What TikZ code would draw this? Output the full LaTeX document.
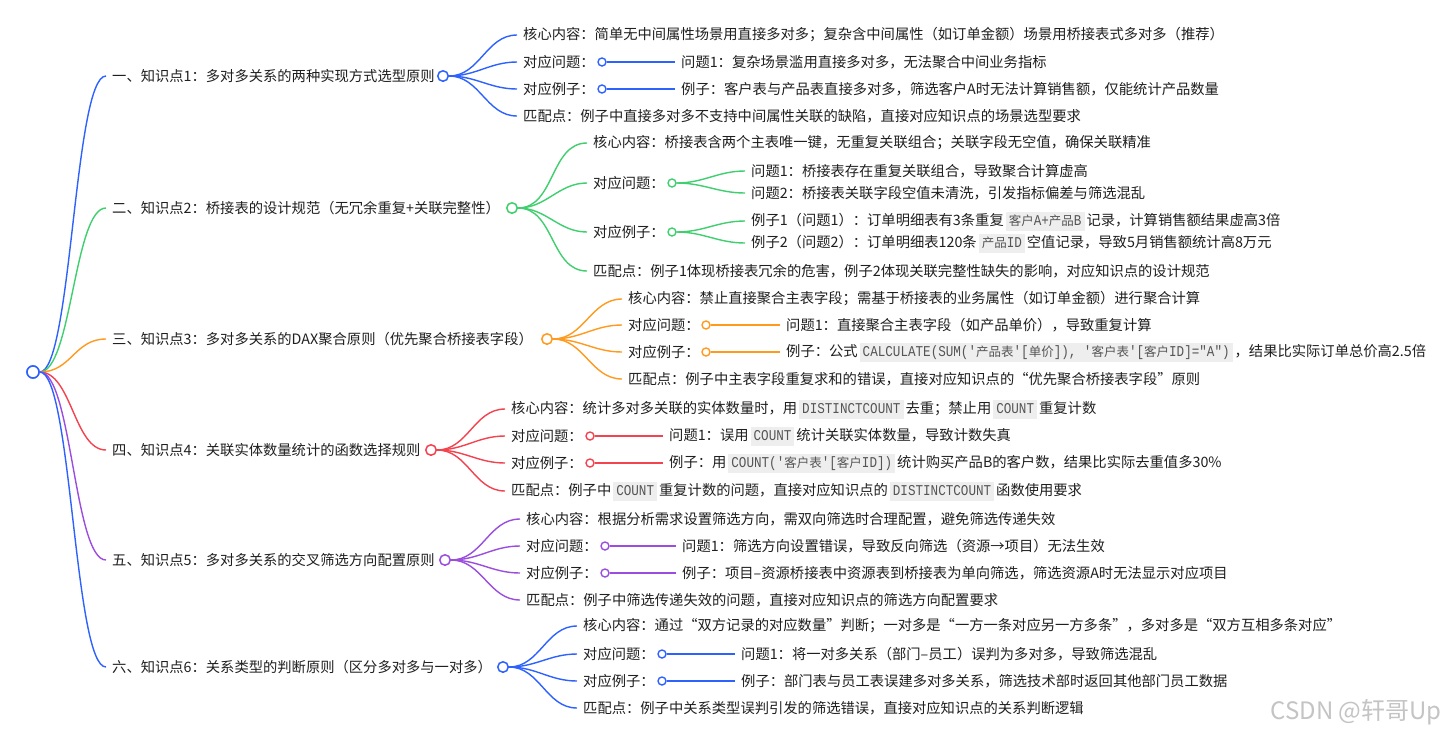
\documentclass[tikz,border=0pt]{standalone}
\usepackage{fontspec}
\setmainfont{Noto Sans CJK SC}
\newfontfamily\codefam[FakeStretch=0.84]{Liberation Mono}
\definecolor{cblue}{HTML}{2E62FF}
\definecolor{cgreen}{HTML}{3FCF6E}
\definecolor{corange}{HTML}{FF9A1E}
\definecolor{cred}{HTML}{F2434F}
\definecolor{cpurple}{HTML}{9B4DE0}
\definecolor{textc}{HTML}{1F1F1F}
\definecolor{codebg}{HTML}{EEEEEE}
\definecolor{codefg}{HTML}{555555}
\definecolor{wmc}{HTML}{C4C4C4}
\newcommand{\zh}[1]{{\normalfont\fontsize{12.5}{14}\selectfont #1}}
\newcommand{\cd}[1]{\hspace{2pt}{\setlength{\fboxsep}{0pt}\colorbox{codebg}{\hspace{3pt}\rule[-5pt]{0pt}{19pt}{\codefam\fontsize{15}{17}\selectfont\color{codefg}#1}\hspace{3pt}}}\hspace{2pt}}
\tikzset{
  lbl/.style={anchor=west, inner xsep=6pt, inner ysep=1pt, text=textc, font=\fontsize{14.3}{17}\selectfont},
  rootdot/.style={circle, draw=#1, fill=white, line width=1.5pt, minimum size=12pt, inner sep=0pt},
  bdot/.style={circle, draw=#1, fill=white, line width=1.5pt, minimum size=10.5pt, inner sep=0pt},
  sdot/.style={circle, draw=#1, fill=white, line width=1.4pt, minimum size=8pt, inner sep=0pt},
  link/.style={draw=#1, line width=1.4pt},
}
\begin{document}
\begin{tikzpicture}[x=1pt,y=-1pt]
\useasboundingbox[fill=white] (0,0) rectangle (1448,737);

% root
\node[rootdot=cblue] (root) at (33,372) {};

% ---------- branch 1 ----------
\node[lbl] (m1) at (106,76) {一、知识点1：多对多关系的两种实现方式选型原则};
\node[bdot=cblue] (c1) at (443,76) {};
\node[lbl] (k1a) at (517,35) {核心内容：简单无中间属性场景用直接多对多；复杂含中间属性（如订单金额）场景用桥接表式多对多（推荐）};
\node[lbl] (k1b) at (517,62) {对应问题：};
\node[sdot=cblue] (d1b) at (602,62) {};
\node[lbl] (g1b) at (675,62) {问题1：复杂场景滥用直接多对多，无法聚合中间业务指标};
\node[lbl] (k1c) at (517,89) {对应例子：};
\node[sdot=cblue] (d1c) at (602,89) {};
\node[lbl] (g1c) at (675,89) {例子：客户表与产品表直接多对多，筛选客户A时无法计算销售额，仅能统计产品数量};
\node[lbl] (k1d) at (517,116) {匹配点：例子中直接多对多不支持中间属性关联的缺陷，直接对应知识点的场景选型要求};

% ---------- branch 2 ----------
\node[lbl] (m2) at (106,208) {二、知识点2：桥接表的设计规范（无冗余重复+关联完整性）};
\node[bdot=cgreen] (c2) at (512,208) {};
\node[lbl] (k2a) at (587,143) {核心内容：桥接表含两个主表唯一键，无重复关联组合；关联字段无空值，确保关联精准};
\node[lbl] (k2b) at (587,183) {对应问题：};
\node[sdot=cgreen] (d2b) at (672,183) {};
\node[lbl] (g2b1) at (745,171) {问题1：桥接表存在重复关联组合，导致聚合计算虚高};
\node[lbl] (g2b2) at (745,193) {问题2：桥接表关联字段空值未清洗，引发指标偏差与筛选混乱};
\node[lbl] (k2c) at (587,232) {对应例子：};
\node[sdot=cgreen] (d2c) at (672,232) {};
\node[lbl] (g2c1) at (745,221) {例子1（问题1）：订单明细表有3条重复\cd{\zh{客户}A+\zh{产品}B}记录，计算销售额结果虚高3倍};
\node[lbl] (g2c2) at (745,243) {例子2（问题2）：订单明细表120条\cd{\zh{产品}ID}空值记录，导致5月销售额统计高8万元};
\node[lbl] (k2d) at (587,271) {匹配点：例子1体现桥接表冗余的危害，例子2体现关联完整性缺失的影响，对应知识点的设计规范};

% ---------- branch 3 ----------
\node[lbl] (m3) at (106,339) {三、知识点3：多对多关系的DAX聚合原则（优先聚合桥接表字段）};
\node[bdot=corange] (c3) at (547,339) {};
\node[lbl] (k3a) at (622,299) {核心内容：禁止直接聚合主表字段；需基于桥接表的业务属性（如订单金额）进行聚合计算};
\node[lbl] (k3b) at (622,325) {对应问题：};
\node[sdot=corange] (d3b) at (706,325) {};
\node[lbl] (g3b) at (780,325) {问题1：直接聚合主表字段（如产品单价），导致重复计算};
\node[lbl] (k3c) at (622,352) {对应例子：};
\node[sdot=corange] (d3c) at (706,352) {};
\node[lbl] (g3c) at (780,352) {例子：公式\cd{CALCULATE(SUM('\zh{产品表}'[\zh{单价}]), '\zh{客户表}'[\zh{客户}ID]="A")}，结果比实际订单总价高2.5倍};
\node[lbl] (k3d) at (622,379) {匹配点：例子中主表字段重复求和的错误，直接对应知识点的“优先聚合桥接表字段”原则};

% ---------- branch 4 ----------
\node[lbl] (m4) at (106,450) {四、知识点4：关联实体数量统计的函数选择规则};
\node[bdot=cred] (c4) at (431,450) {};
\node[lbl] (k4a) at (505,409) {核心内容：统计多对多关联的实体数量时，用\cd{DISTINCTCOUNT}去重；禁止用\cd{COUNT}重复计数};
\node[lbl] (k4b) at (505,436) {对应问题：};
\node[sdot=cred] (d4b) at (590,436) {};
\node[lbl] (g4b) at (663,436) {问题1：误用\cd{COUNT}统计关联实体数量，导致计数失真};
\node[lbl] (k4c) at (505,463) {对应例子：};
\node[sdot=cred] (d4c) at (590,463) {};
\node[lbl] (g4c) at (663,463) {例子：用\cd{COUNT('\zh{客户表}'[\zh{客户}ID])}统计购买产品B的客户数，结果比实际去重值多30\%};
\node[lbl] (k4d) at (505,491) {匹配点：例子中\cd{COUNT}重复计数的问题，直接对应知识点的\cd{DISTINCTCOUNT}函数使用要求};

% ---------- branch 5 ----------
\node[lbl] (m5) at (106,560) {五、知识点5：多对多关系的交叉筛选方向配置原则};
\node[bdot=cpurple] (c5) at (445,560) {};
\node[lbl] (k5a) at (520,519) {核心内容：根据分析需求设置筛选方向，需双向筛选时合理配置，避免筛选传递失效};
\node[lbl] (k5b) at (520,546) {对应问题：};
\node[sdot=cpurple] (d5b) at (605,546) {};
\node[lbl] (g5b) at (676,546) {问题1：筛选方向设置错误，导致反向筛选（资源→项目）无法生效};
\node[lbl] (k5c) at (520,573) {对应例子：};
\node[sdot=cpurple] (d5c) at (605,573) {};
\node[lbl] (g5c) at (676,573) {例子：项目–资源桥接表中资源表到桥接表为单向筛选，筛选资源A时无法显示对应项目};
\node[lbl] (k5d) at (520,600) {匹配点：例子中筛选传递失效的问题，直接对应知识点的筛选方向配置要求};

% ---------- branch 6 ----------
\node[lbl] (m6) at (106,667) {六、知识点6：关系类型的判断原则（区分多对多与一对多）};
\node[bdot=cblue] (c6) at (503,667) {};
\node[lbl] (k6a) at (577,626) {核心内容：通过“双方记录的对应数量”判断；一对多是“一方一条对应另一方多条”，多对多是“双方互相多条对应”};
\node[lbl] (k6b) at (577,654) {对应问题：};
\node[sdot=cblue] (d6b) at (662,654) {};
\node[lbl] (g6b) at (735,654) {问题1：将一对多关系（部门–员工）误判为多对多，导致筛选混乱};
\node[lbl] (k6c) at (577,681) {对应例子：};
\node[sdot=cblue] (d6c) at (662,681) {};
\node[lbl] (g6c) at (735,681) {例子：部门表与员工表误建多对多关系，筛选技术部时返回其他部门员工数据};
\node[lbl] (k6d) at (577,708) {匹配点：例子中关系类型误判引发的筛选错误，直接对应知识点的关系判断逻辑};

% watermark
\node[anchor=east, inner sep=0pt, text=wmc, font=\fontsize{24}{28}\selectfont] (wm) at (1442,712) {CSDN @轩哥Up};

% ---------- connectors ----------
\draw[link=cblue]   (root.east) .. controls +(32,0) and +(-32,0) .. (m1.west);
\draw[link=cgreen]  (root.east) .. controls +(32,0) and +(-32,0) .. (m2.west);
\draw[link=corange] (root.east) .. controls +(32,0) and +(-32,0) .. (m3.west);
\draw[link=cred]    (root.east) .. controls +(32,0) and +(-32,0) .. (m4.west);
\draw[link=cpurple] (root.east) .. controls +(32,0) and +(-32,0) .. (m5.west);
\draw[link=cblue]   (root.east) .. controls +(32,0) and +(-32,0) .. (m6.west);

\foreach \k in {k1a,k1b,k1c,k1d} \draw[link=cblue] (c1.east) to[out=0,in=180] (\k.west);
\draw[link=cblue] (d1b.east) -- (g1b.west);
\draw[link=cblue] (d1c.east) -- (g1c.west);

\foreach \k in {k2a,k2b,k2c,k2d} \draw[link=cgreen] (c2.east) to[out=0,in=180] (\k.west);
\foreach \k in {g2b1,g2b2} \draw[link=cgreen] (d2b.east) to[out=0,in=180] (\k.west);
\foreach \k in {g2c1,g2c2} \draw[link=cgreen] (d2c.east) to[out=0,in=180] (\k.west);

\foreach \k in {k3a,k3b,k3c,k3d} \draw[link=corange] (c3.east) to[out=0,in=180] (\k.west);
\draw[link=corange] (d3b.east) -- (g3b.west);
\draw[link=corange] (d3c.east) -- (g3c.west);

\foreach \k in {k4a,k4b,k4c,k4d} \draw[link=cred] (c4.east) to[out=0,in=180] (\k.west);
\draw[link=cred] (d4b.east) -- (g4b.west);
\draw[link=cred] (d4c.east) -- (g4c.west);

\foreach \k in {k5a,k5b,k5c,k5d} \draw[link=cpurple] (c5.east) to[out=0,in=180] (\k.west);
\draw[link=cpurple] (d5b.east) -- (g5b.west);
\draw[link=cpurple] (d5c.east) -- (g5c.west);

\foreach \k in {k6a,k6b,k6c,k6d} \draw[link=cblue] (c6.east) to[out=0,in=180] (\k.west);
\draw[link=cblue] (d6b.east) -- (g6b.west);
\draw[link=cblue] (d6c.east) -- (g6c.west);

% redraw root dot on top of connector ends
\node[rootdot=cblue] at (root) {};
\end{tikzpicture}
\end{document}
